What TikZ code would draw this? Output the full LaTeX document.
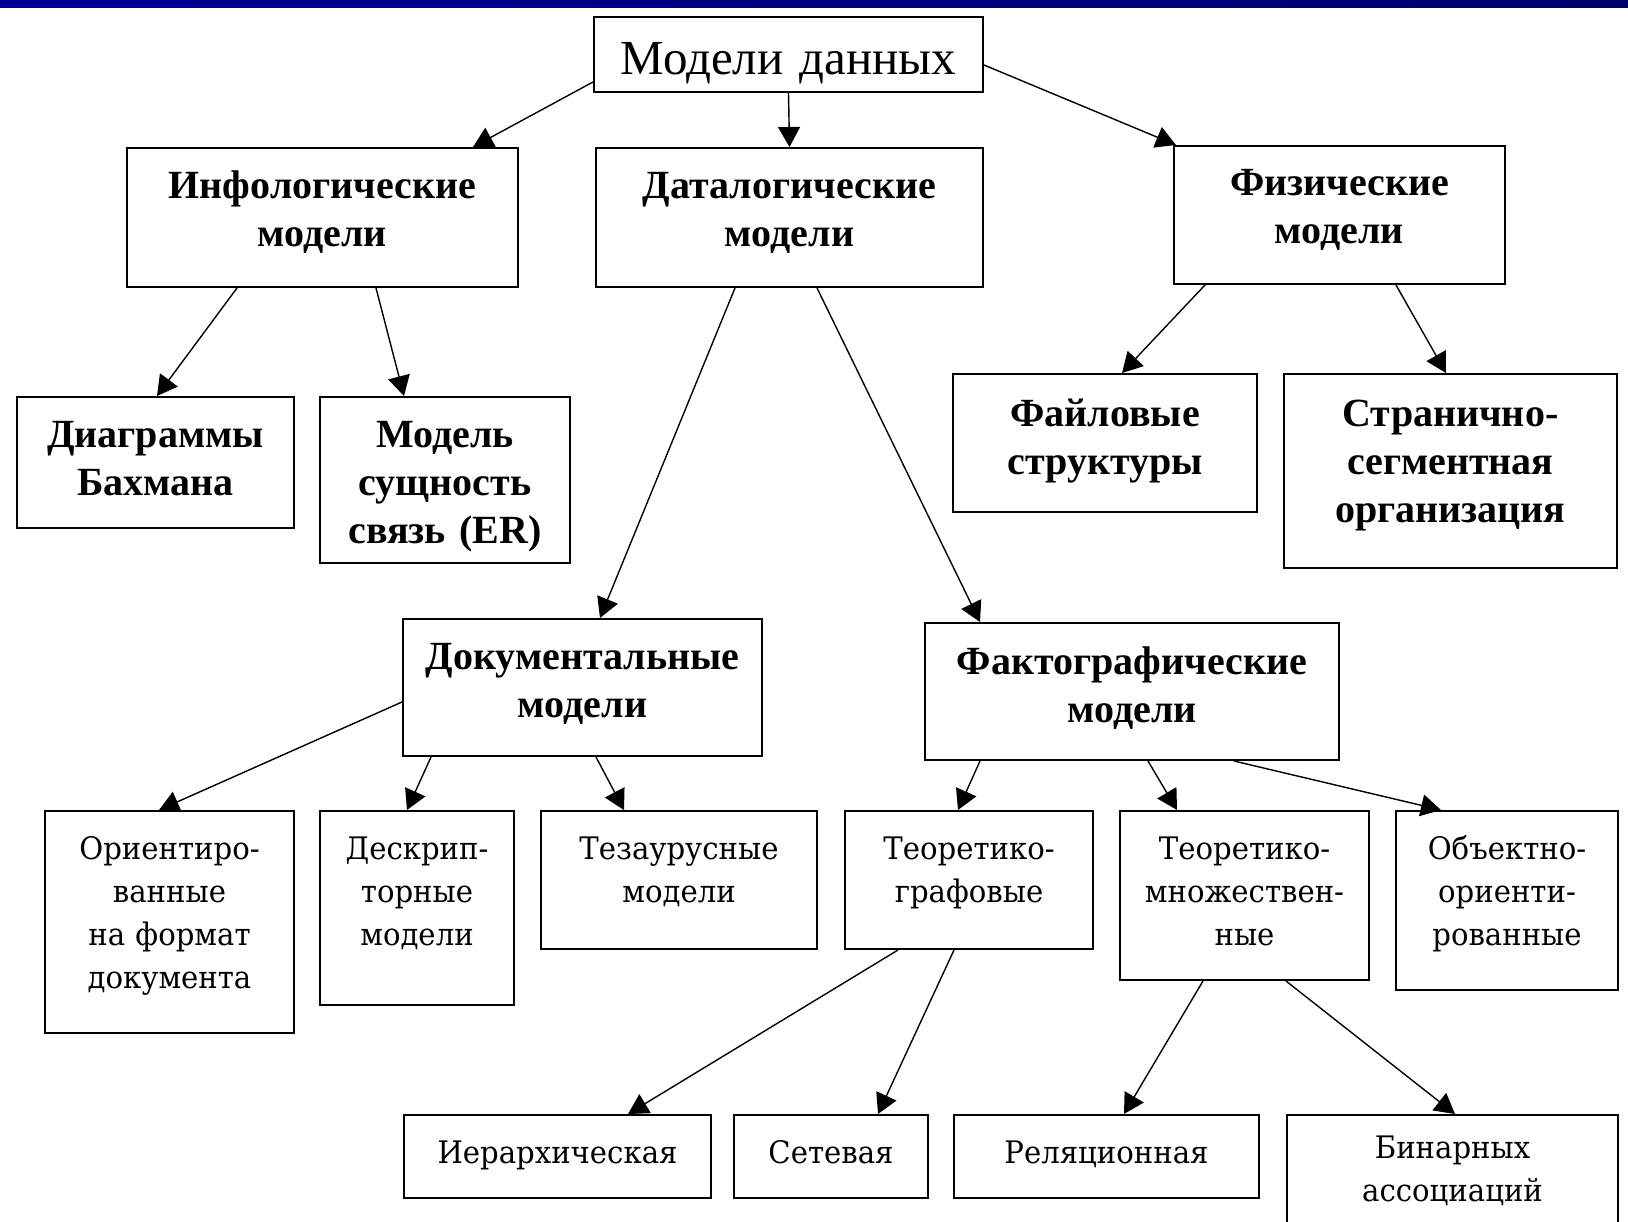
\documentclass[tikz,border=0pt]{standalone}
\usepackage{fontspec}
\setmainfont{Liberation Serif}
\newfontfamily\leafserif[FakeStretch=0.94]{DejaVu Serif}
\usepackage{tikz}
\definecolor{barleft}{HTML}{000096}
\definecolor{barright}{HTML}{00006E}
\usetikzlibrary{calc}
\usetikzlibrary{arrows.meta}
\newcommand{\titlefont}{\fontsize{24.5pt}{28pt}\selectfont}
\newcommand{\headfont}{\bfseries\fontsize{20pt}{24pt}\selectfont}
\newcommand{\leaffont}{\leafserif\fontsize{15.5pt}{21.5pt}\selectfont}
\tikzset{%
  headbox/.style 2 args={draw, line width=1pt, anchor=north west, inner sep=0pt, align=center, font=\headfont, text width=#1, text height=25pt, text depth=#2},
  leafbox/.style 2 args={draw, line width=1pt, anchor=north west, inner sep=0pt, align=center, font=\leaffont, text width=#1, text height=24pt, text depth=#2},
  link/.style={line width=0.7pt, -{Triangle[length=10pt,width=11pt]}}
}

\begin{document}
\begin{tikzpicture}[x=0.5pt, y=-0.5pt]

\useasboundingbox (0,0) rectangle (1628,1221);
\clip (0,0) rectangle (1628,1221);
\fill[white] (0,0) rectangle (1628,1221);
\shade[left color=barleft, right color=barright] (0,0) rectangle (1628,7);

% root
\node (top) at (593,16) [headbox={194.5pt}{9pt}, text height=28.5pt, font=\titlefont] {Модели данных};

% second row
\node (info) at (126,147) [headbox={195.5pt}{44.5pt}] {Инфологические\\модели};
\node (datalog) at (595,147) [headbox={193.5pt}{44.5pt}] {Даталогические\\модели};
\node (phys) at (1173,145) [headbox={165.5pt}{44.5pt}, text height=24.5pt] {Физические\\модели};

\node (bach) at (16,396) [headbox={138.5pt}{40.5pt}] {Диаграммы\\Бахмана};
\node (er) at (319,396) [headbox={125pt}{58pt}] {Модель\\сущность\\связь (ER)};
\node (file) at (952,373) [headbox={152pt}{43pt}, text height=26pt] {Файловые\\структуры};
\node (page) at (1283,373) [headbox={166.5pt}{71pt}, text height=26pt] {Странично-\\сегментная\\организация};

\node (doc) at (402,618) [headbox={179.5pt}{43.5pt}] {Документальные\\модели};
\node (fact) at (924,622) [headbox={207pt}{43pt}, text height=25.5pt] {Фактографические\\модели};

% leaves
\node (orient) at (44,810) [leafbox={124.5pt}{87pt}] {Ориентиро-\\ванные\\на формат\\документа};
\node (descr) at (319,810) [leafbox={97pt}{73pt}] {Дескрип-\\торные\\модели};
\node (thes) at (540,810) [leafbox={138pt}{45pt}] {Тезаурусные\\модели};
\node (graph) at (844,810) [leafbox={124pt}{45pt}] {Теоретико-\\графовые};
\node (set) at (1119,810) [leafbox={124.5pt}{60.5pt}] {Теоретико-\\множествен-\\ные};
\node (oop) at (1395,810) [leafbox={111pt}{65.5pt}] {Объектно-\\ориенти-\\рованные};

\node (hier) at (403,1114) [leafbox={153.5pt}{17.5pt}] {Иерархическая};
\node (net) at (733,1114) [leafbox={97pt}{17.5pt}] {Сетевая};
\node (rel) at (953,1114) [leafbox={152.5pt}{17.5pt}] {Реляционная};
\node (bin) at (1286,1114) [leafbox={165.5pt}{48.5pt}, text height=21.5pt] {Бинарных\\ассоциаций};

% arrows
\draw[link] ($(top.south west)+(0,-11)$) -- ($(info.north)+(150.5,0)$);
\draw[link] (top.south) -- (datalog.north);
\draw[link] ($(top.east)+(0,10.5)$) -- ($(phys.north west)+(3,0)$);

\draw[link] ($(info.south)+(-85.5,0)$) -- ($(bach.north)+(1.5,0)$);
\draw[link] ($(info.south)+(53.5,0)$) -- ($(er.north)+(-41,0)$);
\draw[link] ($(datalog.south)+(-54.5,0)$) -- ($(doc.north)+(17.5,0)$);
\draw[link] ($(datalog.south)+(27.5,0)$) -- ($(fact.north)+(-152,0)$);
\draw[link] ($(phys.south)+(-134.5,0)$) -- ($(file.north)+(17,0)$);
\draw[link] ($(phys.south)+(56.5,0)$) -- ($(page.north)+(-4.5,0)$);

\draw[link] ($(doc.west)+(0,14.5)$) -- ($(orient.north)+(-10.5,0)$);
\draw[link] ($(doc.south west)+(29,0)$) -- ($(descr.north)+(-10,0)$);
\draw[link] ($(doc.south)+(13.5,0)$) -- ($(thes.north)+(-55,0)$);
\draw[link] ($(fact.south)+(-152,0)$) -- ($(graph.north)+(-11,0)$);
\draw[link] ($(fact.south)+(16,0)$) -- ($(set.north)+(-67.5,0)$);
\draw[link] ($(fact.south)+(102,0)$) -- ($(oop.north)+(-66,0)$);

\draw[link] ($(graph.south)+(-71,0)$) -- ($(hier.north)+(70.5,0)$);
\draw[link] ($(graph.south)+(-15,0)$) -- ($(net.north)+(47,0)$);
\draw[link] ($(set.south)+(-41.5,0)$) -- ($(rel.north)+(17.5,0)$);
\draw[link] ($(set.south)+(41.5,0)$) -- ($(bin.north)+(2.5,0)$);

\end{tikzpicture}
\end{document}
